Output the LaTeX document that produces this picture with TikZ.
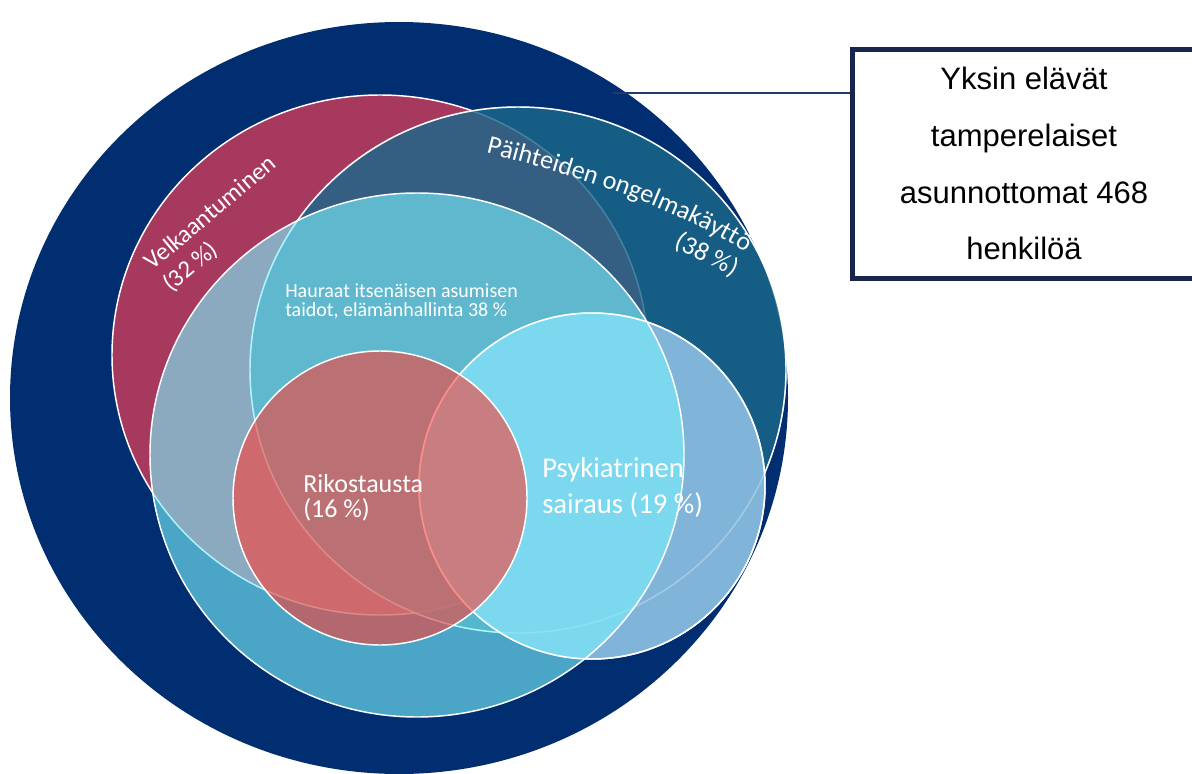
\documentclass[tikz,border=0pt]{standalone}
\usepackage{fontspec}
\setmainfont{Carlito}
\newfontfamily\boxfont{Liberation Sans}
\usepackage{xcolor}
\usepackage{tikz}
\usetikzlibrary{decorations.text}

\definecolor{navyback}{RGB}{0,46,112}
\definecolor{velkred}{RGB}{168,57,94}
\definecolor{paihteal}{RGB}{28,104,138}
\definecolor{psykblue}{RGB}{128,180,216}
\definecolor{haurcyan}{RGB}{122,240,253}
\definecolor{rikored}{RGB}{255,61,50}
\definecolor{boxline}{RGB}{24,38,78}
\definecolor{linkline}{RGB}{31,58,107}

\begin{document}
\begin{tikzpicture}[x=0.75pt, y=-0.75pt,
    outline/.style={draw=white, line width=1.1pt},
    faint/.style={draw=white, draw opacity=0.3, line width=1.1pt},
    label/.style={text=white, inner sep=0pt, align=left, anchor=base west}]
    \useasboundingbox (0,0) rectangle (1192,774);

    % Outer group
    \fill[navyback] (399,398) ellipse [x radius=389, y radius=376];

    % Velkaantuminen
    \filldraw[outline, fill=velkred] (380,355) ellipse [x radius=268, y radius=260];

    % Paihteet
    \filldraw[outline, fill=paihteal, fill opacity=0.82] (518,370) ellipse [x radius=268, y radius=263];

    % Psykiatrinen
    \filldraw[outline, fill=psykblue] (592,486) circle [radius=173];
    \draw[faint] (518,370) ellipse [x radius=268, y radius=263];

    % Hauraat taidot
    \filldraw[outline, fill=haurcyan, fill opacity=0.615] (417,455) ellipse [x radius=267, y radius=262];
    \draw[outline] (592,486) circle [radius=173];

    % Rikostausta
    \filldraw[outline, fill=rikored, fill opacity=0.58] (380,498) circle [radius=147];

    % Labels (anchored at the last line)
    \node[label, rotate=40, font=\fontsize{18.5pt}{21.4pt}\selectfont] (velk) at (171,293) {Velkaantuminen\\(32 \%)};
    \path[decorate, decoration={text along path, text align={fit to path},
        text={|\fontsize{19.5pt}{20pt}\selectfont\color{white}|Päihteiden ongelmakäyttö}}]
        (486,153) .. controls (575,175) and (668,205) .. (746,252);
    \node[text=white, inner sep=0pt, rotate=-27, font=\fontsize{19.5pt}{20pt}\selectfont] (paihpct) at (707,255) {(38 \%)};
    \node[label, font=\fontsize{15pt}{14.6pt}\selectfont] (haur) at (285,316.5) {Hauraat itsenäisen asumisen\\taidot, elämänhallinta 38 \%};
    \node[label, font=\fontsize{19.5pt}{18.75pt}\selectfont] (riko) at (303,517) {Rikostausta\\(16 \%)};
    \node[label, font=\fontsize{21.5pt}{27pt}\selectfont] (psyk) at (542,513) {Psykiatrinen\\sairaus (19 \%)};

    % Info box
    \node[draw=boxline, line width=3.75pt, minimum width=258pt, minimum height=171.4pt,
        align=center, inner sep=0pt, font=\boxfont\fontsize{23.25pt}{42.5pt}\selectfont]
        (info) at (1024,163.75) {Yksin elävät\\tamperelaiset\\asunnottomat 468\\henkilöä};

    % Connection
    \coordinate (navyend) at (613,93);
    \draw[linkline, line width=1.5pt] (navyend) -- (navyend -| info.west);
\end{tikzpicture}
\end{document}
